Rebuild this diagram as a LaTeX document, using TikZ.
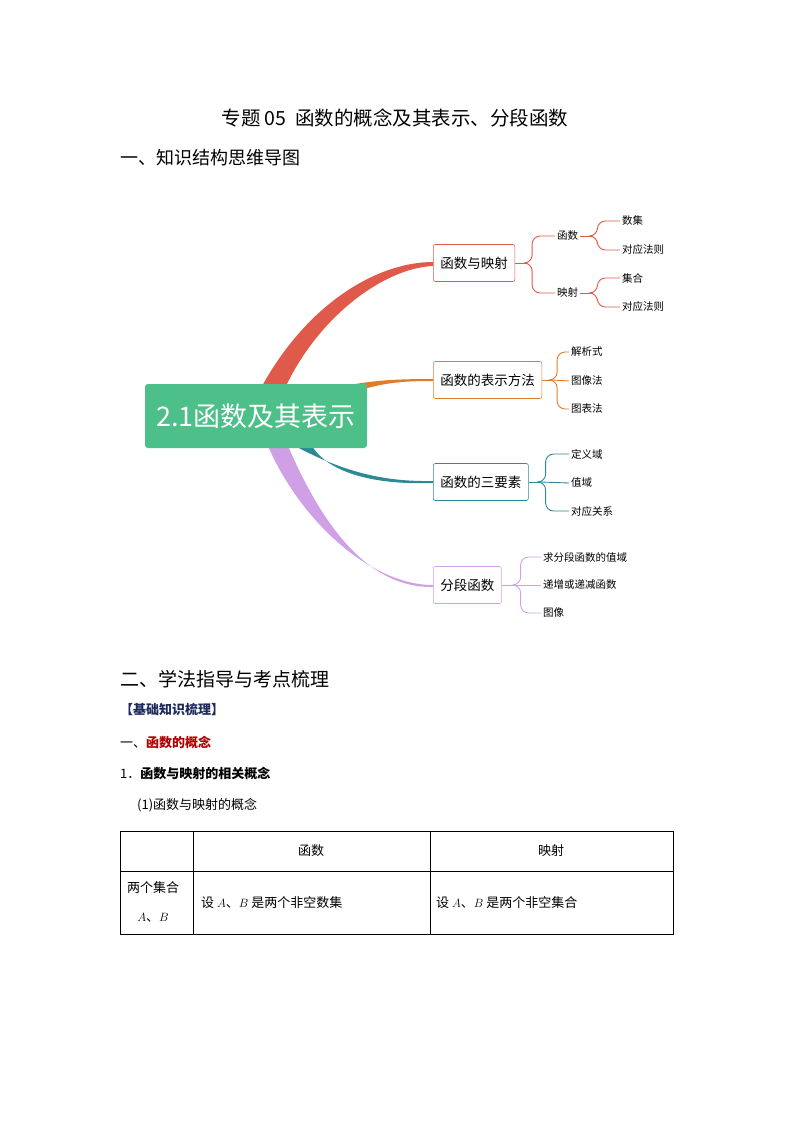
\documentclass[tikz,border=0pt]{standalone}
\usepackage{fontspec}
\setmainfont{Noto Sans CJK SC}
\newfontfamily\cjk{Noto Sans CJK SC}
\begin{document}
\begin{tikzpicture}[x=1pt,y=-1pt,
  box/.style={draw=#1,rounded corners=2pt,fill=white,minimum height=37pt,inner xsep=7pt,font=\fontsize{13.5}{16}\selectfont,anchor=west,line width=0.6pt},
  leaf/.style={anchor=west,inner sep=2pt,font=\fontsize{10.5}{12}\selectfont},
  con/.style={draw=#1,line width=0.9pt},
  br/.style={draw=#1,line width=0.9pt,rounded corners=8pt},
  txt/.style={anchor=west,inner sep=0pt},
  body/.style={font=\fontsize{13}{15}\selectfont}]
\useasboundingbox (0,0) rectangle (794,1123);
\definecolor{cgreen}{HTML}{4DBF89}
\definecolor{cred}{HTML}{E05A4B}
\definecolor{corange}{HTML}{E07B2A}
\definecolor{cteal}{HTML}{2B8A96}
\definecolor{cpurple}{HTML}{CFA0E6}
\definecolor{cdarkred}{HTML}{B00000}
\definecolor{cnavy}{HTML}{1F2A5A}
% titles
\node (title) at (395,118) {\fontsize{19.5}{22}\selectfont 专题 05\ \ 函数的概念及其表示、分段函数};
\node[txt] (h1) at (120,158) {\fontsize{18}{21}\selectfont 一、知识结构思维导图};
% branches (tapered)
\fill[cred] (262,386) .. controls (310,300) and (380,262) .. (433,262) -- (433,266) .. controls (385,268) and (320,315) .. (286,386) -- cycle;
\fill[corange] (355,384) .. controls (380,380) and (400,379) .. (433,379) -- (433,381) .. controls (400,381) and (385,383) .. (360,390) -- cycle;
\fill[cteal] (295,446) .. controls (340,470) and (380,482) .. (433,481) -- (433,483) .. controls (380,485) and (330,475) .. (312,446) -- cycle;
\fill[cpurple] (268,446) .. controls (300,520) and (370,585) .. (433,585) -- (433,587) .. controls (365,588) and (320,520) .. (288,446) -- cycle;
% central
\node[fill=cgreen,rounded corners=3pt,minimum width=222pt,minimum height=64pt,text=white,font=\fontsize{27}{30}\selectfont] (root) at (256,416) {2.1函数及其表示};
% main boxes
\node[box=cred] (b1) at (433,263) {函数与映射};
\node[box=corange] (b2) at (433,380) {函数的表示方法};
\node[box=cteal] (b3) at (433,482) {函数的三要素};
\node[box=cpurple] (b4) at (433,585) {分段函数};
% leaves
\node[leaf] (f) at (555,236) {函数};
\node[leaf] (m) at (555,293) {映射};
\node[leaf] (f1) at (620,221) {数集};
\node[leaf] (f2) at (620,250) {对应法则};
\node[leaf] (m1) at (620,278) {集合};
\node[leaf] (m2) at (620,307) {对应法则};
\node[leaf] (r1) at (569,352) {解析式};
\node[leaf] (r2) at (569,381) {图像法};
\node[leaf] (r3) at (569,409) {图表法};
\node[leaf] (t1) at (569,454) {定义域};
\node[leaf] (t2) at (569,483) {值域};
\node[leaf] (t3) at (569,511) {对应关系};
\node[leaf] (p1) at (541,557) {求分段函数的值域};
\node[leaf] (p2) at (541,585) {递增或递减函数};
\node[leaf] (p3) at (541,613) {图像};
% braces
\draw[con=cred] (b1.east) -- ++(12,0) coordinate (j1);
\draw[br=cred] (j1) -- ++(5,0) |- (f.west);
\draw[br=cred] (j1) -- ++(5,0) |- (m.west);
\draw[con=cred] (f.east) -- ++(12,0) coordinate (j2);
\draw[br=cred] (j2) -- ++(5,0) |- (f1.west);
\draw[br=cred] (j2) -- ++(5,0) |- (f2.west);
\draw[con=cred] (m.east) -- ++(12,0) coordinate (j3);
\draw[br=cred] (j3) -- ++(5,0) |- (m1.west);
\draw[br=cred] (j3) -- ++(5,0) |- (m2.west);
\draw[con=corange] (b2.east) -- ++(10,0) coordinate (j4);
\draw[br=corange] (j4) -- ++(5,0) |- (r1.west);
\draw[con=corange] (j4) -- (r2.west);
\draw[br=corange] (j4) -- ++(5,0) |- (r3.west);
\draw[con=cteal] (b3.east) -- ++(12,0) coordinate (j5);
\draw[br=cteal] (j5) -- ++(5,0) |- (t1.west);
\draw[con=cteal] (j5) -- (t2.west);
\draw[br=cteal] (j5) -- ++(5,0) |- (t3.west);
\draw[con=cpurple] (b4.east) -- ++(14,0) coordinate (j6);
\draw[br=cpurple] (j6) -- ++(5,0) |- (p1.west);
\draw[con=cpurple] (j6) -- (p2.west);
\draw[br=cpurple] (j6) -- ++(5,0) |- (p3.west);
% lower text
\node[txt] (h2) at (120,679) {\fontsize{19}{22}\selectfont 二、学法指导与考点梳理};
\node[txt,text=cnavy] (h3) at (120,710) {\fontsize{13}{15}\selectfont\bfseries 【基础知识梳理】};
\node[txt] (h4) at (120,742) {\fontsize{13}{15}\selectfont 一、\textcolor{cdarkred}{\bfseries 函数的概念}};
\node[txt] (h5) at (120,773) {\fontsize{13}{15}\selectfont 1．\textbf{函数与映射的相关概念}};
\node[txt,body] (h6) at (137,805) {(1)函数与映射的概念};
% table
\draw[line width=0.7pt] (120,831) rectangle (673,934);
\draw[line width=0.7pt] (120,871) -- (673,871);
\draw[line width=0.7pt] (193,831) -- (193,934);
\draw[line width=0.7pt] (430,831) -- (430,934);
\node[body] (c1) at (311,851) {函数};
\node[body] (c2) at (551,851) {映射};
\node[body] (c3) at (153,888) {两个集合};
\node[body] (c4) at (153,918) {$A$、$B$};
\node[txt,body] (c5) at (201,903) {设 $A$、$B$ 是两个非空数集};
\node[txt,body] (c6) at (436,903) {设 $A$、$B$ 是两个非空集合};
\end{tikzpicture}
\end{document}
